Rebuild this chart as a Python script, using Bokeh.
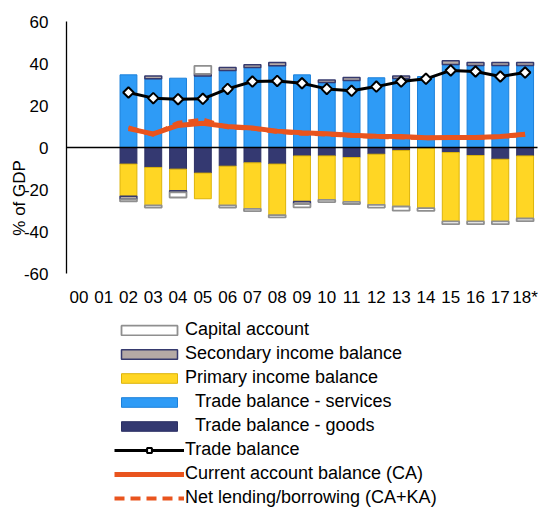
import numpy as np
from bokeh.plotting import figure
from bokeh.models import (ColumnDataSource, Range1d, FixedTicker, Label, Legend, LegendItem)
from bokeh.embed import file_html
from bokeh.resources import INLINE

# ---------------- data (% of GDP) ----------------
categories = ["00", "01", "02", "03", "04", "05", "06", "07", "08", "09",
              "10", "11", "12", "13", "14", "15", "16", "17", "18*"]
years = ["02", "03", "04", "05", "06", "07", "08", "09", "10", "11",
         "12", "13", "14", "15", "16", "17", "18*"]
services = [34.6, 32.7, 33.0, 34.1, 36.7, 38.1, 38.9, 34.6, 31.0, 31.9,
            33.2, 32.9, 33.8, 39.5, 39.0, 39.0, 39.0]
goods = [-7.9, -9.5, -10.3, -12.2, -8.9, -7.3, -7.9, -4.0, -4.0, -4.8,
         -3.2, -1.4, -0.3, -2.4, -3.8, -5.6, -4.0]
primary = [-15.3, -18.1, -10.3, -12.2, -18.7, -21.9, -24.3, -21.7, -20.9, -21.1,
           -24.1, -26.7, -28.6, -32.8, -31.4, -29.6, -29.8]
secondary = [-1.5, 1.3, -0.8, 1.0, 1.4, 1.3, 1.6, -1.2, 1.2, 1.4,
             0.0, 1.2, 0.0, 1.8, 1.5, 1.5, 1.5]
capital = [-1.0, -1.0, -2.4, 3.8, -1.0, -1.1, -1.1, -1.6, -1.1, -1.0,
           -1.3, -2.0, -1.3, -1.3, -1.3, -1.3, -1.3]
trade = [26.2, 23.5, 23.0, 23.2, 27.9, 31.4, 31.7, 30.6, 27.9, 27.0,
         29.0, 31.4, 32.7, 36.7, 36.2, 33.8, 35.7]
current_account = [9.0, 6.5, 10.5, 11.5, 10.0, 9.3, 7.8, 7.0, 6.5, 5.8,
                   5.3, 5.2, 4.6, 4.8, 4.8, 5.2, 6.3]
net_lending = [9.6, 6.0, 11.8, 13.3, 9.6, 9.0, 7.4, 6.6, 6.2, 5.6,
               5.0, 4.8, 4.4, 4.6, 4.6, 5.0, 6.1]
y_ticks = [-60, -40, -20, 0, 20, 40, 60]

# ---------------- positions & stacking ----------------
cat_pos = {c: i + 0.5 for i, c in enumerate(categories)}
xs = np.array([cat_pos[y] for y in years])
S = np.array(services); G = np.array(goods); P = np.array(primary)
SE = np.array(secondary); K = np.array(capital)
neg_base = G + P
sec_bottom = np.where(SE > 0, S, neg_base)
sec_top = sec_bottom + SE
pos_after_sec = S + np.where(SE > 0, SE, 0)
neg_after_sec = neg_base + np.where(SE < 0, SE, 0)
cap_bottom = np.where(K > 0, pos_after_sec, neg_after_sec)
cap_top = cap_bottom + K

def sub(mask, bottom, top):
    idx = [i for i in range(len(years)) if mask[i]]
    return ColumnDataSource(dict(x=[float(xs[i]) for i in idx],
                                 bottom=[float(bottom[i]) for i in idx],
                                 top=[float(top[i]) for i in idx]))

FONT = "Liberation Sans"
W = 0.68
N = len(categories)
PX_X = 471 / N          # pixels per category
PX_Y = 2.1              # pixels per % point
FW, FH = 538, 508
ZERO_PX = 147           # vertical pixel position of the zero line

p = figure(x_range=Range1d(-66 / PX_X, N + 1 / PX_X),
           y_range=Range1d(-(FH - ZERO_PX) / PX_Y, ZERO_PX / PX_Y),
           width=FW, height=FH, output_backend="svg", toolbar_location=None,
           min_border=0)
p.outline_line_color = None
p.xgrid.visible = False
p.ygrid.visible = False
p.background_fill_color = "white"

r_serv = p.vbar(x="x", bottom="bottom", top="top", width=W,
                source=sub([True] * len(years), np.zeros(len(years)), S),
                fill_color="#2E9BF6", line_color="#1C80DA", line_width=1)
r_goods = p.vbar(x="x", bottom="bottom", top="top", width=W,
                 source=sub([True] * len(years), np.zeros(len(years)), G),
                 fill_color="#343971", line_color="#2C3064", line_width=1)
r_prim = p.vbar(x="x", bottom="bottom", top="top", width=W,
                source=sub([True] * len(years), G, neg_base),
                fill_color="#FFD624", line_color="#DDB40A", line_width=1)
r_sec = p.vbar(x="x", bottom="bottom", top="top", width=W,
               source=sub(SE != 0, sec_bottom, sec_top),
               fill_color="#B5AAA5", line_color="#363A6E", line_width=1.5)
r_cap = p.vbar(x="x", bottom="bottom", top="top", width=W,
               source=sub(K != 0, cap_bottom, cap_top),
               fill_color="white", line_color="#8F8F8F", line_width=1.8)

# zero line across the category area
p.segment(x0=[0], y0=[0], x1=[N], y1=[0], line_color="black", line_width=1.3)

line_src = ColumnDataSource(dict(x=xs, trade=trade, ca=current_account, nl=net_lending))
r_nl = p.line(x="x", y="nl", source=line_src, line_color="#E9541E", line_width=4,
              line_dash="10 6")
r_ca = p.line(x="x", y="ca", source=line_src, line_color="#E9541E", line_width=5)
r_tl = p.line(x="x", y="trade", source=line_src, line_color="black", line_width=3)
r_tm = p.scatter(x="x", y="trade", source=line_src, marker="square", angle=np.pi / 4,
                 size=7.5, fill_color="white", line_color="black", line_width=2)

# x axis (categories) drawn at y = -60
p.xaxis.fixed_location = -60
p.xaxis.ticker = FixedTicker(ticks=[cat_pos[c] for c in categories])
p.xaxis.major_label_overrides = {cat_pos[c]: c for c in categories}
p.xaxis.axis_line_color = None
p.xaxis.major_tick_line_color = None
p.xaxis.minor_tick_line_color = None
p.xaxis.major_label_standoff = 8
p.xaxis.major_label_text_font = FONT
p.xaxis.major_label_text_font_size = "17px"
p.xaxis.major_label_text_color = "black"

# y axis drawn at the left edge of the category area
p.yaxis.fixed_location = 0
p.yaxis.bounds = (-60, 60)
p.yaxis.ticker = FixedTicker(ticks=y_ticks)
p.yaxis.major_label_overrides = {t: str(t) for t in y_ticks}
p.yaxis.axis_line_color = "black"
p.yaxis.axis_line_width = 1.3
p.yaxis.major_tick_line_color = None
p.yaxis.minor_tick_line_color = None
p.yaxis.major_label_standoff = 12
p.yaxis.major_label_text_font = FONT
p.yaxis.major_label_text_font_size = "17px"
p.yaxis.major_label_text_color = "black"

p.add_layout(Label(x=19, y=-24, x_units="screen", y_units="data", text="% of GDP",
                   angle=np.pi / 2, text_align="center", text_baseline="middle",
                   text_font=FONT, text_font_size="17px", text_color="black"))

NB = "\u00a0\u00a0"
legend = Legend(items=[
    LegendItem(label="Capital account", renderers=[r_cap]),
    LegendItem(label="Secondary income balance", renderers=[r_sec]),
    LegendItem(label="Primary income balance", renderers=[r_prim]),
    LegendItem(label=NB + "Trade balance - services", renderers=[r_serv]),
    LegendItem(label=NB + "Trade balance - goods", renderers=[r_goods]),
    LegendItem(label="Trade balance", renderers=[r_tl, r_tm]),
    LegendItem(label="Current account balance (CA)", renderers=[r_ca]),
    LegendItem(label="Net lending/borrowing (CA+KA)", renderers=[r_nl]),
], location=(114, 0), orientation="vertical",
    glyph_width=70, glyph_height=12, label_standoff=1, label_height=20,
    spacing=3, padding=0, margin=0,
    label_text_font=FONT, label_text_font_size="18px", label_text_color="black",
    background_fill_alpha=0, border_line_alpha=0)
p.add_layout(legend, "center")

open("out.html", "w").write(file_html(p, INLINE))
